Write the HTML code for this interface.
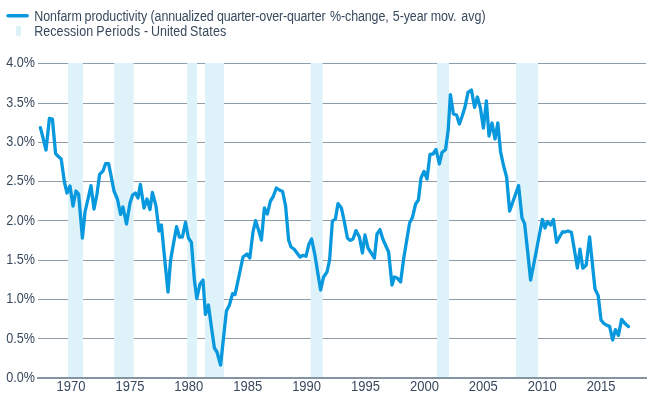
<!DOCTYPE html>
<html><head><meta charset="utf-8"><title>Nonfarm productivity</title>
<style>html,body{margin:0;padding:0;background:#fff}svg{display:block}text{font-family:"Liberation Sans",sans-serif;fill:#38495d}</style></head><body>
<svg width="650" height="400" viewBox="0 0 650 400">
<rect width="650" height="400" fill="#fff"/>
<rect x="38" y="63" width="608" height="1" fill="#8f9da9"/>
<rect x="38" y="103" width="608" height="1" fill="#8f9da9"/>
<rect x="38" y="142" width="608" height="1" fill="#8f9da9"/>
<rect x="38" y="181" width="608" height="1" fill="#8f9da9"/>
<rect x="38" y="220" width="608" height="1" fill="#8f9da9"/>
<rect x="38" y="260" width="608" height="1" fill="#8f9da9"/>
<rect x="38" y="299" width="608" height="1" fill="#8f9da9"/>
<rect x="38" y="338" width="608" height="1" fill="#8f9da9"/>
<rect x="68.0" y="63" width="15.0" height="314" fill="#def2f9"/>
<rect x="114.2" y="63" width="19.4" height="314" fill="#def2f9"/>
<rect x="187.2" y="63" width="9.8" height="314" fill="#def2f9"/>
<rect x="205.0" y="63" width="19.0" height="314" fill="#def2f9"/>
<rect x="310.7" y="63" width="12.0" height="314" fill="#def2f9"/>
<rect x="437.0" y="63" width="12.0" height="314" fill="#def2f9"/>
<rect x="516.0" y="63" width="22.0" height="314" fill="#def2f9"/>
<rect x="37" y="377" width="610" height="2" fill="#8494a2"/>
<path d="M40.4 127.6 L43.2 138.6 L46.0 150.0 L49.4 118.4 L52.4 119.0 L55.6 153.6 L58.4 156.5 L61.2 159.0 L64.4 182.0 L67.0 193.0 L70.0 186.0 L73.0 206.0 L76.0 191.0 L78.6 194.0 L82.4 238.0 L85.0 212.0 L88.0 199.0 L91.0 185.6 L94.0 209.0 L97.0 194.0 L99.6 174.4 L103.0 171.0 L105.6 163.6 L108.6 163.6 L111.3 177.0 L114.0 191.0 L117.4 199.0 L120.6 214.4 L123.0 207.0 L126.5 224.0 L130.0 203.0 L132.6 195.0 L135.4 193.0 L138.0 198.0 L140.4 184.4 L144.0 208.0 L147.0 199.0 L150.0 209.6 L152.4 192.4 L156.0 206.0 L159.0 231.0 L161.4 225.0 L164.6 258.0 L168.0 292.0 L170.6 260.0 L173.6 243.0 L176.6 226.6 L179.4 237.0 L182.4 237.0 L185.5 222.4 L188.4 238.0 L191.4 242.4 L194.4 280.0 L196.8 298.5 L200.0 284.0 L203.0 280.0 L205.4 314.4 L208.4 305.0 L211.4 327.0 L214.4 348.0 L217.0 352.0 L220.6 365.0 L223.5 338.0 L226.4 311.0 L229.4 305.0 L232.6 293.6 L235.0 294.6 L239.0 276.0 L243.0 257.0 L247.0 254.0 L249.8 258.0 L253.0 232.0 L255.6 220.6 L258.5 230.0 L261.4 240.0 L264.4 208.0 L267.4 214.0 L270.4 201.0 L273.0 197.0 L276.4 188.0 L279.4 190.0 L282.6 191.6 L285.6 206.0 L288.6 240.0 L291.0 247.0 L294.0 249.0 L297.0 253.0 L300.0 257.0 L303.0 255.3 L306.0 256.2 L309.0 244.0 L311.6 239.0 L315.0 255.5 L317.8 273.0 L320.6 290.0 L323.6 277.0 L327.0 272.0 L329.6 260.0 L332.4 221.0 L335.4 219.0 L338.0 203.6 L341.4 208.0 L344.4 222.0 L347.4 238.0 L350.0 240.4 L353.0 239.0 L356.0 230.6 L359.4 237.0 L362.4 253.0 L365.0 235.0 L368.0 248.0 L371.2 253.0 L374.4 258.0 L377.0 234.0 L380.0 229.6 L382.8 239.0 L385.7 245.5 L388.6 252.0 L392.0 285.0 L394.4 277.0 L397.2 278.0 L400.6 282.0 L403.6 259.0 L406.6 241.0 L409.6 223.0 L412.4 217.6 L415.6 204.0 L418.4 200.0 L421.0 178.0 L424.0 171.4 L427.0 179.0 L430.0 154.4 L433.0 154.0 L436.0 149.4 L439.4 164.0 L442.0 152.4 L445.6 149.4 L448.2 130.0 L450.4 94.6 L453.4 114.0 L456.6 115.0 L459.4 124.0 L462.2 116.0 L465.0 107.0 L468.0 92.4 L471.4 90.0 L474.6 107.4 L477.4 97.0 L480.4 108.0 L483.4 128.0 L486.4 101.0 L489.0 136.0 L492.0 123.0 L495.0 139.0 L497.8 123.0 L500.6 152.0 L503.4 165.0 L506.6 177.0 L509.6 211.0 L512.6 202.5 L515.6 194.0 L518.6 185.6 L522.0 218.0 L524.6 223.6 L527.6 251.0 L530.6 280.0 L533.6 265.0 L536.5 250.0 L539.5 234.0 L542.4 219.4 L545.0 228.0 L547.4 221.6 L550.6 225.0 L553.4 219.4 L556.6 242.4 L559.5 237.0 L562.4 232.0 L565.0 232.0 L568.0 231.0 L571.4 232.2 L574.4 250.0 L577.4 268.0 L580.0 249.2 L582.8 268.2 L586.2 265.0 L589.6 237.0 L592.3 263.0 L595.0 289.0 L598.2 295.6 L601.0 320.0 L604.0 323.6 L607.0 325.4 L609.6 326.4 L612.6 340.0 L615.4 329.6 L618.4 335.4 L621.6 319.4 L625.0 323.6 L628.4 326.6" fill="none" stroke="#0898dd" stroke-width="3.3" stroke-linejoin="round" stroke-linecap="round"/>
<text transform="translate(35,67.3) scale(0.9,1)" font-size="14" text-anchor="end">4.0%</text>
<text transform="translate(35,106.6) scale(0.9,1)" font-size="14" text-anchor="end">3.5%</text>
<text transform="translate(35,146.0) scale(0.9,1)" font-size="14" text-anchor="end">3.0%</text>
<text transform="translate(35,185.3) scale(0.9,1)" font-size="14" text-anchor="end">2.5%</text>
<text transform="translate(35,224.7) scale(0.9,1)" font-size="14" text-anchor="end">2.0%</text>
<text transform="translate(35,264.0) scale(0.9,1)" font-size="14" text-anchor="end">1.5%</text>
<text transform="translate(35,303.3) scale(0.9,1)" font-size="14" text-anchor="end">1.0%</text>
<text transform="translate(35,342.7) scale(0.9,1)" font-size="14" text-anchor="end">0.5%</text>
<text transform="translate(35,382.0) scale(0.9,1)" font-size="14" text-anchor="end">0.0%</text>
<text transform="translate(71.0,391) scale(0.93,1)" font-size="14" text-anchor="middle">1970</text>
<text transform="translate(129.9,391) scale(0.93,1)" font-size="14" text-anchor="middle">1975</text>
<text transform="translate(188.8,391) scale(0.93,1)" font-size="14" text-anchor="middle">1980</text>
<text transform="translate(247.7,391) scale(0.93,1)" font-size="14" text-anchor="middle">1985</text>
<text transform="translate(306.6,391) scale(0.93,1)" font-size="14" text-anchor="middle">1990</text>
<text transform="translate(365.5,391) scale(0.93,1)" font-size="14" text-anchor="middle">1995</text>
<text transform="translate(424.4,391) scale(0.93,1)" font-size="14" text-anchor="middle">2000</text>
<text transform="translate(483.3,391) scale(0.93,1)" font-size="14" text-anchor="middle">2005</text>
<text transform="translate(542.2,391) scale(0.93,1)" font-size="14" text-anchor="middle">2010</text>
<text transform="translate(601.1,391) scale(0.93,1)" font-size="14" text-anchor="middle">2015</text>
<line x1="8.1" y1="15.8" x2="27.1" y2="15.8" stroke="#0898dd" stroke-width="3.6" stroke-linecap="round"/>
<rect x="16.1" y="26" width="4.9" height="9.8" fill="#dbf1f8"/>
<text transform="scale(0.89,1)" y="20.9" font-size="14" xml:space="preserve"><tspan x="38.43" letter-spacing="-0.019">Nonfarm </tspan><tspan x="95.03" letter-spacing="-0.042">productivity </tspan><tspan x="169.21" letter-spacing="-0.15">(annualized </tspan><tspan x="243.75" letter-spacing="-0.168">quarter-over-quarter </tspan><tspan x="370.87" letter-spacing="-0.136">%-change, </tspan><tspan x="441.39" letter-spacing="-0.099">5-year </tspan><tspan x="484.04" letter-spacing="-0.187">mov. </tspan><tspan x="518.16" letter-spacing="0.106">avg)</tspan></text>
<text transform="scale(0.89,1)" y="35.9" font-size="14" xml:space="preserve"><tspan x="38.38" letter-spacing="0.118">Recession </tspan><tspan x="108.27" letter-spacing="0.307">Periods </tspan><tspan x="161.83" letter-spacing="0.0">- </tspan><tspan x="169.66" letter-spacing="0.045">United </tspan><tspan x="213.47" letter-spacing="0.229">States</tspan></text>
</svg></body></html>
